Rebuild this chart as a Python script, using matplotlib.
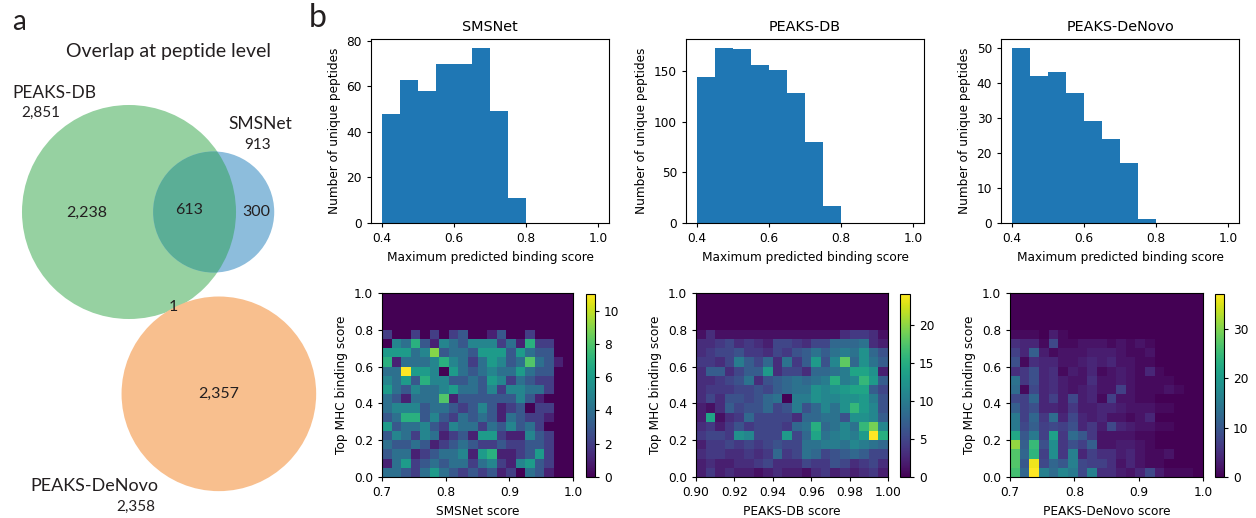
import numpy as np
import matplotlib
matplotlib.use("Agg")
import matplotlib.pyplot as plt
from matplotlib.patches import Circle

# ---- data ----
# Venn: set sizes and overlaps at peptide level
n_db = 2851
n_sms = 913
n_denovo = 2358
n_db_only = 2238
n_db_sms = 613
n_sms_only = 300
n_db_denovo = 1
n_denovo_only = 2357

# histograms: counts per 0.05 bin from 0.4 to 1.0
hist_edges = [0.40, 0.45, 0.50, 0.55, 0.60, 0.65, 0.70, 0.75, 0.80, 0.85, 0.90, 0.95, 1.00]
hist_sms = [48, 63, 58, 70, 70, 77, 49, 11, 0, 0, 0, 0]
hist_db = [144, 173, 172, 156, 151, 128, 80, 17, 0, 0, 0, 0]
hist_denovo = [50, 42, 43, 37, 29, 24, 17, 1, 0, 0, 0, 0]

# 2d histograms: rows = binding score bins 0.00-0.80 (bottom to top), 20 score bins
heat_sms = [
    [4, 4, 3, 2, 4, 6, 4, 3, 2, 3, 2, 3, 1, 2, 0, 4, 3, 1, 0, 0],
    [1, 4, 6, 2, 3, 4, 3, 4, 4, 2, 4, 5, 2, 1, 5, 6, 3, 2, 0, 0],
    [3, 4, 4, 1, 2, 3, 4, 4, 5, 1, 6, 7, 1, 1, 2, 3, 6, 2, 0, 0],
    [4, 3, 3, 4, 3, 1, 2, 3, 4, 3, 2, 2, 3, 2, 2, 3, 3, 2, 0, 0],
    [3, 5, 4, 2, 5, 4, 1, 2, 3, 1, 6, 6, 2, 1, 1, 5, 3, 2, 0, 0],
    [6, 3, 4, 4, 5, 3, 2, 5, 4, 4, 2, 4, 3, 5, 3, 4, 2, 0, 0, 0],
    [3, 4, 7, 7, 3, 5, 3, 2, 4, 3, 4, 3, 1, 4, 3, 2, 2, 1, 0, 0],
    [4, 5, 5, 5, 3, 4, 4, 3, 2, 3, 5, 3, 1, 2, 3, 0, 2, 2, 0, 0],
    [4, 3, 1, 4, 4, 4, 8, 1, 3, 3, 3, 3, 3, 3, 5, 3, 1, 0, 0, 0],
    [6, 4, 3, 5, 4, 4, 5, 6, 4, 4, 3, 5, 2, 5, 5, 4, 4, 2, 0, 0],
    [5, 4, 6, 3, 7, 5, 5, 3, 3, 4, 3, 6, 5, 2, 4, 3, 2, 2, 0, 0],
    [4, 4, 11, 6, 6, 5, 0, 6, 4, 3, 4, 5, 4, 4, 6, 4, 3, 3, 0, 0],
    [7, 1, 4, 4, 4, 5, 7, 5, 4, 2, 4, 6, 5, 3, 4, 8, 4, 3, 1, 0],
    [6, 6, 6, 4, 5, 9, 3, 4, 4, 3, 6, 6, 6, 3, 6, 4, 3, 3, 0, 0],
    [0, 5, 4, 7, 3, 1, 5, 4, 3, 5, 5, 5, 2, 4, 1, 7, 2, 2, 0, 0],
    [2, 0, 0, 2, 0, 2, 0, 2, 3, 0, 0, 1, 3, 0, 0, 2, 0, 0, 0, 0],
]
heat_db = [
    [2, 4, 2, 3, 2, 2, 1, 2, 3, 2, 2, 1, 3, 4, 2, 3, 2, 3, 4, 2],
    [2, 3, 2, 2, 3, 3, 4, 5, 3, 3, 3, 5, 4, 4, 6, 5, 3, 4, 5, 3],
    [3, 4, 4, 3, 3, 4, 3, 4, 8, 4, 5, 9, 8, 5, 6, 7, 8, 7, 5, 5],
    [2, 4, 4, 5, 4, 5, 4, 5, 6, 5, 5, 9, 9, 10, 10, 9, 11, 10, 9, 8],
    [4, 5, 5, 4, 12, 11, 5, 5, 5, 13, 5, 8, 14, 9, 10, 11, 10, 13, 24, 15],
    [3, 4, 2, 4, 6, 4, 5, 5, 5, 4, 8, 9, 15, 8, 9, 11, 9, 16, 19, 11],
    [2, 14, 1, 3, 4, 8, 5, 5, 5, 5, 3, 8, 8, 9, 9, 6, 12, 12, 11, 7],
    [2, 1, 3, 7, 5, 6, 6, 8, 5, 6, 10, 6, 8, 11, 9, 12, 16, 13, 11, 6],
    [3, 5, 3, 6, 6, 5, 6, 8, 9, 0, 10, 10, 12, 11, 11, 12, 12, 13, 10, 6],
    [3, 4, 4, 4, 5, 5, 6, 5, 7, 8, 9, 9, 12, 11, 12, 13, 14, 14, 7, 5],
    [3, 3, 4, 5, 6, 9, 3, 6, 7, 8, 9, 8, 9, 10, 15, 10, 11, 16, 13, 7],
    [3, 7, 7, 3, 5, 7, 7, 13, 3, 5, 5, 3, 8, 8, 9, 10, 14, 14, 12, 2],
    [4, 4, 3, 5, 10, 7, 5, 8, 3, 9, 4, 7, 13, 6, 11, 18, 8, 12, 9, 7],
    [3, 4, 5, 5, 6, 4, 4, 3, 5, 4, 6, 7, 9, 7, 9, 10, 9, 12, 8, 6],
    [3, 3, 4, 5, 3, 4, 3, 2, 5, 5, 4, 3, 5, 5, 8, 8, 8, 9, 3, 2],
    [1, 3, 1, 1, 1, 1, 1, 1, 1, 1, 1, 1, 1, 1, 1, 3, 4, 4, 3, 1],
]
heat_denovo = [
    [26, 12, 37, 16, 13, 17, 15, 8, 16, 5, 5, 3, 2, 4, 8, 3, 1, 1, 1, 0],
    [27, 10, 36, 8, 12, 10, 16, 8, 7, 7, 5, 2, 4, 2, 1, 1, 0, 0, 0, 0],
    [27, 12, 24, 7, 18, 6, 16, 4, 7, 5, 5, 3, 4, 2, 1, 1, 2, 0, 0, 0],
    [31, 11, 25, 9, 18, 6, 9, 7, 11, 2, 2, 3, 3, 2, 1, 0, 0, 0, 0, 0],
    [22, 10, 15, 7, 21, 6, 13, 10, 6, 2, 2, 2, 2, 1, 1, 0, 0, 0, 0, 0],
    [15, 8, 11, 7, 8, 7, 9, 4, 6, 3, 8, 4, 3, 2, 2, 1, 1, 0, 0, 0],
    [15, 7, 12, 6, 13, 4, 8, 4, 3, 4, 2, 2, 1, 2, 4, 0, 0, 0, 0, 0],
    [11, 7, 9, 4, 4, 3, 6, 3, 3, 4, 4, 3, 2, 2, 2, 1, 1, 0, 0, 0],
    [8, 7, 12, 4, 7, 3, 8, 3, 4, 1, 7, 2, 2, 1, 1, 0, 0, 0, 0, 0],
    [13, 1, 8, 4, 5, 3, 2, 3, 4, 2, 2, 7, 2, 1, 1, 1, 2, 1, 0, 0],
    [14, 6, 9, 4, 5, 3, 2, 2, 5, 2, 2, 3, 2, 1, 1, 1, 1, 0, 0, 0],
    [5, 6, 9, 4, 5, 1, 3, 2, 4, 1, 2, 3, 2, 1, 4, 1, 0, 0, 0, 0],
    [9, 1, 5, 4, 4, 2, 2, 3, 4, 3, 4, 2, 2, 1, 1, 0, 0, 0, 0, 0],
    [7, 4, 11, 3, 1, 2, 2, 2, 3, 3, 3, 2, 1, 1, 2, 0, 0, 0, 0, 0],
    [5, 4, 4, 1, 8, 1, 1, 2, 2, 2, 1, 2, 1, 2, 1, 0, 0, 0, 0, 0],
    [1, 1, 1, 0, 3, 1, 0, 0, 0, 0, 0, 0, 0, 0, 0, 0, 0, 0, 0, 0],
]

titles = ["SMSNet", "PEAKS-DB", "PEAKS-DeNovo"]
score_ranges = [(0.7, 1.0), (0.90, 1.00), (0.7, 1.0)]
x_ticks = [[0.7, 0.8, 0.9, 1.0],
           [0.90, 0.92, 0.94, 0.96, 0.98, 1.00],
           [0.7, 0.8, 0.9, 1.0]]
x_ticklabels = [["0.7", "0.8", "0.9", "1.0"],
                ["0.90", "0.92", "0.94", "0.96", "0.98", "1.00"],
                ["0.7", "0.8", "0.9", "1.0"]]

plt.rcParams['font.size'] = 8.7
plt.rcParams['axes.linewidth'] = 0.8
plt.rcParams['xtick.major.size'] = 3
plt.rcParams['ytick.major.size'] = 3

W, H = 1256, 518
fig = plt.figure(figsize=(W / 100, H / 100), dpi=100)


def fx(px):
    return px / W


def fy(px):
    return 1 - px / H


# ---- panel a: Venn ----
venn_font = ['Lato', 'DejaVu Sans']
txt_col = '#231f20'
av = fig.add_axes([0, 0, fx(330), 1])
av.set_xlim(0, 330)
av.set_ylim(H, 0)
av.axis('off')

k = 2.004  # px per sqrt(peptide)
r_db = k * np.sqrt(n_db)
r_sms = k * np.sqrt(n_sms)
r_dn = k * np.sqrt(n_denovo)


def lens_area(d, r1, r2):
    a1 = r1 ** 2 * np.arccos((d ** 2 + r1 ** 2 - r2 ** 2) / (2 * d * r1))
    a2 = r2 ** 2 * np.arccos((d ** 2 + r2 ** 2 - r1 ** 2) / (2 * d * r2))
    a3 = 0.5 * np.sqrt((-d + r1 + r2) * (d + r1 - r2) * (d - r1 + r2) * (d + r1 + r2))
    return a1 + a2 - a3


# distance giving the 613 overlap area
target = np.pi * k ** 2 * n_db_sms
lo, hi = r_db - r_sms + 1e-6, r_db + r_sms - 1e-6
for _ in range(60):
    mid = (lo + hi) / 2
    if lens_area(mid, r_db, r_sms) > target:
        lo = mid
    else:
        hi = mid
d_sms = (lo + hi) / 2

c_db = np.array([129.0, 212.0])
c_sms = c_db + np.array([d_sms, 0])
ang = np.deg2rad(63.7)
c_dn = c_db + (r_db + r_dn - 1.5) * np.array([np.cos(ang), np.sin(ang)])

av.add_patch(Circle(c_db, r_db, facecolor='#96d1a1', edgecolor='none'))
av.add_patch(Circle(c_sms, r_sms, facecolor='#8dbddc', edgecolor='none'))
# intersection region
clip = Circle(c_db, r_db, transform=av.transData)
inter = Circle(c_sms, r_sms, facecolor='#5bae96', edgecolor='none')
av.add_patch(inter)
inter.set_clip_path(clip)
av.add_patch(Circle(c_dn, r_dn, facecolor='#f8bf8e', edgecolor='none'))

tp = c_db + r_db * np.array([np.cos(ang), np.sin(ang)])

av.text(12, 30, 'a', fontsize=20, family=venn_font, color=txt_col)
av.text(168, 57, 'Overlap at peptide level', fontsize=14, ha='center', family=venn_font, color=txt_col)
av.text(12, 98, 'PEAKS-DB', fontsize=12.5, family=venn_font, color=txt_col)
av.text(41, 117, f'{n_db:,}', fontsize=11, ha='center', family=venn_font, color=txt_col)
av.text(260, 129, 'SMSNet', fontsize=12.5, ha='center', family=venn_font, color=txt_col)
av.text(258, 149, f'{n_sms:,}', fontsize=11, ha='center', family=venn_font, color=txt_col)
av.text(c_db[0] - 42, 217, f'{n_db_only:,}', fontsize=11.5, ha='center', family=venn_font, color=txt_col)
av.text(189, 214, f'{n_db_sms:,}', fontsize=11.5, ha='center', family=venn_font, color=txt_col)
av.text(256, 216, f'{n_sms_only:,}', fontsize=11.5, ha='center', family=venn_font, color=txt_col)
av.text(tp[0] - 3, 311, f'{n_db_denovo:,}', fontsize=11.5, ha='center', family=venn_font, color=txt_col)
av.text(c_dn[0], 398, f'{n_denovo_only:,}', fontsize=11.5, ha='center', family=venn_font, color=txt_col)
av.text(94, 491, 'PEAKS-DeNovo', fontsize=13, ha='center', family=venn_font, color=txt_col)
av.text(155, 511, f'{n_denovo:,}', fontsize=11, ha='right', family=venn_font, color=txt_col)

fig.text(fx(309), fy(27), 'b', fontsize=23, family=venn_font, color=txt_col)

# ---- panel b: histograms ----
hist_left = [371, 686, 1001]
for i, counts in enumerate([hist_sms, hist_db, hist_denovo]):
    ax = fig.add_axes([fx(hist_left[i]), fy(223), fx(238), 184 / H])
    ax.hist(hist_edges[:-1], bins=hist_edges, weights=counts, color='#1f77b4')
    ax.set_title(titles[i], fontsize=10.4)
    ax.set_xlabel('Maximum predicted binding score')
    ax.set_ylabel('Number of unique peptides')
    ax.set_xticks([0.4, 0.6, 0.8, 1.0])

# ---- panel b: 2d histograms ----
heat_left = [(382, 191), (696, 192), (1010, 193)]
cbar_left = [(586, 9), (900, 10), (1215, 9)]
y_edges = np.linspace(0, 1, 21)
for i, grid in enumerate([heat_sms, heat_db, heat_denovo]):
    z = np.vstack([np.array(grid), np.zeros((4, 20))])
    x_edges = np.linspace(score_ranges[i][0], score_ranges[i][1], 21)
    ax = fig.add_axes([fx(heat_left[i][0]), fy(477), fx(heat_left[i][1]), 184 / H])
    mesh = ax.pcolormesh(x_edges, y_edges, z, cmap='viridis', vmin=0, vmax=z.max())
    ax.set_xlim(score_ranges[i])
    ax.set_ylim(0, 1)
    ax.set_xticks(x_ticks[i])
    ax.set_xticklabels(x_ticklabels[i])
    ax.set_yticks([0, 0.2, 0.4, 0.6, 0.8, 1.0])
    ax.set_xlabel(titles[i] + ' score')
    ax.set_ylabel('Top MHC binding score')
    cax = fig.add_axes([fx(cbar_left[i][0]), fy(477), fx(cbar_left[i][1]), 183 / H])
    fig.colorbar(mesh, cax=cax)

fig.savefig('out.png', dpi=100)
